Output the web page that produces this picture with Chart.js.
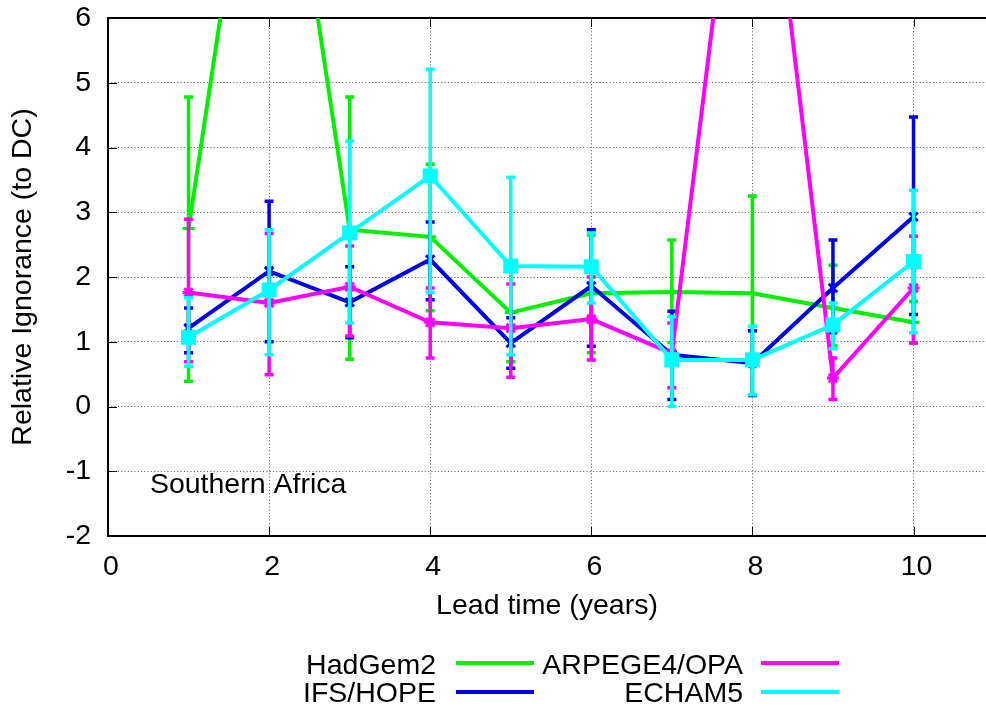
<!DOCTYPE html>
<html>
<head>
<meta charset="utf-8">
<script src="https://cdn.jsdelivr.net/npm/chart.js@4/dist/chart.umd.min.js"></script>
<style>
html,body{margin:0;padding:0;background:#fff;}
#wrap{position:relative;width:986px;height:709px;overflow:hidden;}
canvas{position:absolute;left:0;top:0;}
.lg{position:absolute;font-family:"Liberation Sans",Arial,Helvetica,sans-serif;font-size:28.5px;line-height:28px;color:#000;white-space:nowrap;text-align:right;}
.ln{position:absolute;height:4px;width:78px;}
</style>
</head>
<body>
<div id="wrap">
<canvas id="c" width="986" height="709"></canvas>
<div class="lg" style="right:550px;top:650px">HadGem2</div>
<div class="ln" style="left:456px;top:661px;background:#00f000"></div>
<div class="lg" style="right:243px;top:650px">ARPEGE4/OPA</div>
<div class="ln" style="left:761px;top:661px;background:#ff00ff"></div>
<div class="lg" style="right:550px;top:678px">IFS/HOPE</div>
<div class="ln" style="left:456px;top:690px;background:#0000f0"></div>
<div class="lg" style="right:243px;top:678px">ECHAM5</div>
<div class="ln" style="left:761px;top:690px;background:#00ffff"></div>
</div>
<script>
// ---- data ----
const leadTimes = [1, 2, 3, 4, 5, 6, 7, 8, 9, 10];

const hadgem2      = [2.75, 11.0, 2.73, 2.62, 1.45, 1.75, 1.77, 1.75, 1.52, 1.30];
const hadgem2Low   = [0.39, null, 0.73, 1.48, 0.69, 0.83, 0.99, 0.18, 0.94, 0.98];
const hadgem2High  = [4.78, null, 4.78, 3.74, 2.21, 2.65, 2.57, 3.25, 2.18, 1.62];

const ifsHope      = [1.21, 2.09, 1.61, 2.27, 0.98, 1.86, 0.80, 0.67, 1.83, 2.93];
const ifsHopeLow   = [0.83, 1.00, 1.06, 1.65, 0.59, 0.93, 0.11, 0.17, 1.14, 1.42];
const ifsHopeHigh  = [1.52, 3.17, 2.16, 2.85, 1.37, 2.73, 1.47, 1.17, 2.57, 4.47];

const arpege       = [1.76, 1.60, 1.85, 1.30, 1.21, 1.35, 0.82, 10.9, 0.44, 1.83];
const arpegeLow    = [0.69, 0.49, 1.09, 0.75, 0.45, 0.72, 0.29, null, 0.11, 0.98];
const arpegeHigh   = [2.89, 2.67, 2.48, 1.83, 1.89, 2.00, 1.29, null, 0.75, 2.63];

const echam5       = [1.07, 1.80, 2.68, 3.56, 2.17, 2.16, 0.72, 0.72, 1.26, 2.24];
const echam5Low    = [0.62, 0.80, 1.29, 1.76, 0.80, 1.60, 0.00, 0.18, 0.89, 1.14];
const echam5High   = [1.68, 2.73, 4.10, 5.21, 3.54, 2.68, 1.39, 1.24, 1.60, 3.34];

const seriesNames = ['HadGem2', 'IFS/HOPE', 'ARPEGE4/OPA', 'ECHAM5'];
const xTitle = 'Lead time (years)';
const yTitle = 'Relative Ignorance (to DC)';
const regionLabel = 'Southern Africa';
const regionLabelPos = {x: 0.52, y: -1.34};

// ---- chart ----
const FONT = '"Liberation Sans", Arial, Helvetica, sans-serif';
const FS = 28.5;

function mk(name, vals, lo, hi, color, style, radius, order) {
  return {
    label: name,
    data: leadTimes.map((x, i) => ({x: x, y: vals[i]})),
    errLow: lo, errHigh: hi,
    borderColor: color, backgroundColor: color,
    pointBackgroundColor: color, pointBorderColor: color,
    borderWidth: 4, pointStyle: style, pointRadius: radius,
    pointBorderWidth: 3, showLine: true, order: order, tension: 0
  };
}

const errorBars = {
  id: 'errorBars',
  beforeDatasetDraw(chart, args) {
    const ds = chart.data.datasets[args.index];
    if (!ds.errLow) return;
    const xs = chart.scales.x, ys = chart.scales.y, ctx = chart.ctx, a = chart.chartArea;
    ctx.save();
    ctx.beginPath(); ctx.rect(a.left, a.top, a.right - a.left, a.bottom - a.top); ctx.clip();
    ctx.strokeStyle = ds.borderColor; ctx.lineWidth = 3.5; ctx.lineCap = 'butt';
    leadTimes.forEach((lt, i) => {
      const lo = ds.errLow[i], hi = ds.errHigh[i];
      if (lo == null || hi == null) return;
      const x = xs.getPixelForValue(lt), y1 = ys.getPixelForValue(lo), y2 = ys.getPixelForValue(hi);
      ctx.beginPath();
      ctx.moveTo(x, y1); ctx.lineTo(x, y2);
      ctx.moveTo(x - 4.5, y1); ctx.lineTo(x + 4.5, y1);
      ctx.moveTo(x - 4.5, y2); ctx.lineTo(x + 4.5, y2);
      ctx.stroke();
    });
    ctx.restore();
  }
};

const frame = {
  id: 'frame',
  beforeDatasetsDraw(chart) {
    const ctx = chart.ctx, a = chart.chartArea, xs = chart.scales.x, ys = chart.scales.y;
    ctx.save();
    ctx.strokeStyle = '#000'; ctx.lineWidth = 1;
    ctx.beginPath();
    xs.ticks.forEach(t => {
      const x = Math.round(xs.getPixelForValue(t.value)) + 0.5;
      ctx.moveTo(x, a.bottom); ctx.lineTo(x, a.bottom - 9);
      ctx.moveTo(x, a.top); ctx.lineTo(x, a.top + 9);
    });
    ys.ticks.forEach(t => {
      const y = Math.round(ys.getPixelForValue(t.value)) + 0.5;
      ctx.moveTo(a.left, y); ctx.lineTo(a.left + 9, y);
    });
    ctx.stroke();
    ctx.lineWidth = 2;
    ctx.beginPath();
    ctx.moveTo(a.right + 2, a.top); ctx.lineTo(a.left, a.top); ctx.lineTo(a.left, a.bottom); ctx.lineTo(a.right + 2, a.bottom);
    ctx.stroke();
    ctx.restore();
  },
  afterDatasetsDraw(chart) {
    const ctx = chart.ctx, xs = chart.scales.x, ys = chart.scales.y;
    ctx.save();
    ctx.font = FS + 'px ' + FONT; ctx.fillStyle = '#000';
    ctx.textAlign = 'left'; ctx.textBaseline = 'alphabetic';
    ctx.fillText(regionLabel, xs.getPixelForValue(regionLabelPos.x), ys.getPixelForValue(regionLabelPos.y));
    ctx.restore();
  }
};

new Chart(document.getElementById('c'), {
  type: 'scatter',
  data: {
    datasets: [
      mk(seriesNames[0], hadgem2, hadgem2Low, hadgem2High, '#00f000', 'cross', 6, 4),
      mk(seriesNames[1], ifsHope, ifsHopeLow, ifsHopeHigh, '#0000f0', 'crossRot', 6, 3),
      mk(seriesNames[2], arpege, arpegeLow, arpegeHigh, '#ff00ff', 'star', 6, 2),
      mk(seriesNames[3], echam5, echam5Low, echam5High, '#00ffff', 'rect', 8.5, 1)
    ]
  },
  options: {
    responsive: false, animation: false, devicePixelRatio: 1,
    layout: {autoPadding: false, padding: {top: 18, right: 0, bottom: 73, left: 0}},
    plugins: {legend: {display: false}, tooltip: {enabled: false}},
    scales: {
      x: {
        type: 'linear', min: 0, max: 10.9,
        ticks: {stepSize: 2, includeBounds: false, padding: 14, labelOffset: 3, color: '#000', font: {family: FONT, size: FS}},
        grid: {color: '#555', lineWidth: 1, drawTicks: false},
        border: {display: false, dash: [1, 2.3]},
        title: {display: true, text: xTitle, color: '#000', font: {family: FONT, size: FS, lineHeight: 1.2}, padding: {top: 0, bottom: 13}},
        afterFit(s) { s.height = 100; s.paddingLeft = 0; s.paddingRight = 0; }
      },
      y: {
        type: 'linear', min: -2, max: 6,
        ticks: {stepSize: 1, padding: 17, color: '#000', font: {family: FONT, size: FS}},
        grid: {color: '#555', lineWidth: 1, drawTicks: false},
        border: {display: false, dash: [1, 2.3]},
        title: {display: true, text: yTitle, color: '#000', font: {family: FONT, size: FS, lineHeight: 1.2}, padding: {top: 6, bottom: 0}},
        afterFit(s) { s.width = 108; s.paddingTop = 0; s.paddingBottom = 0; }
      }
    }
  },
  plugins: [errorBars, frame]
});
</script>
</body>
</html>
